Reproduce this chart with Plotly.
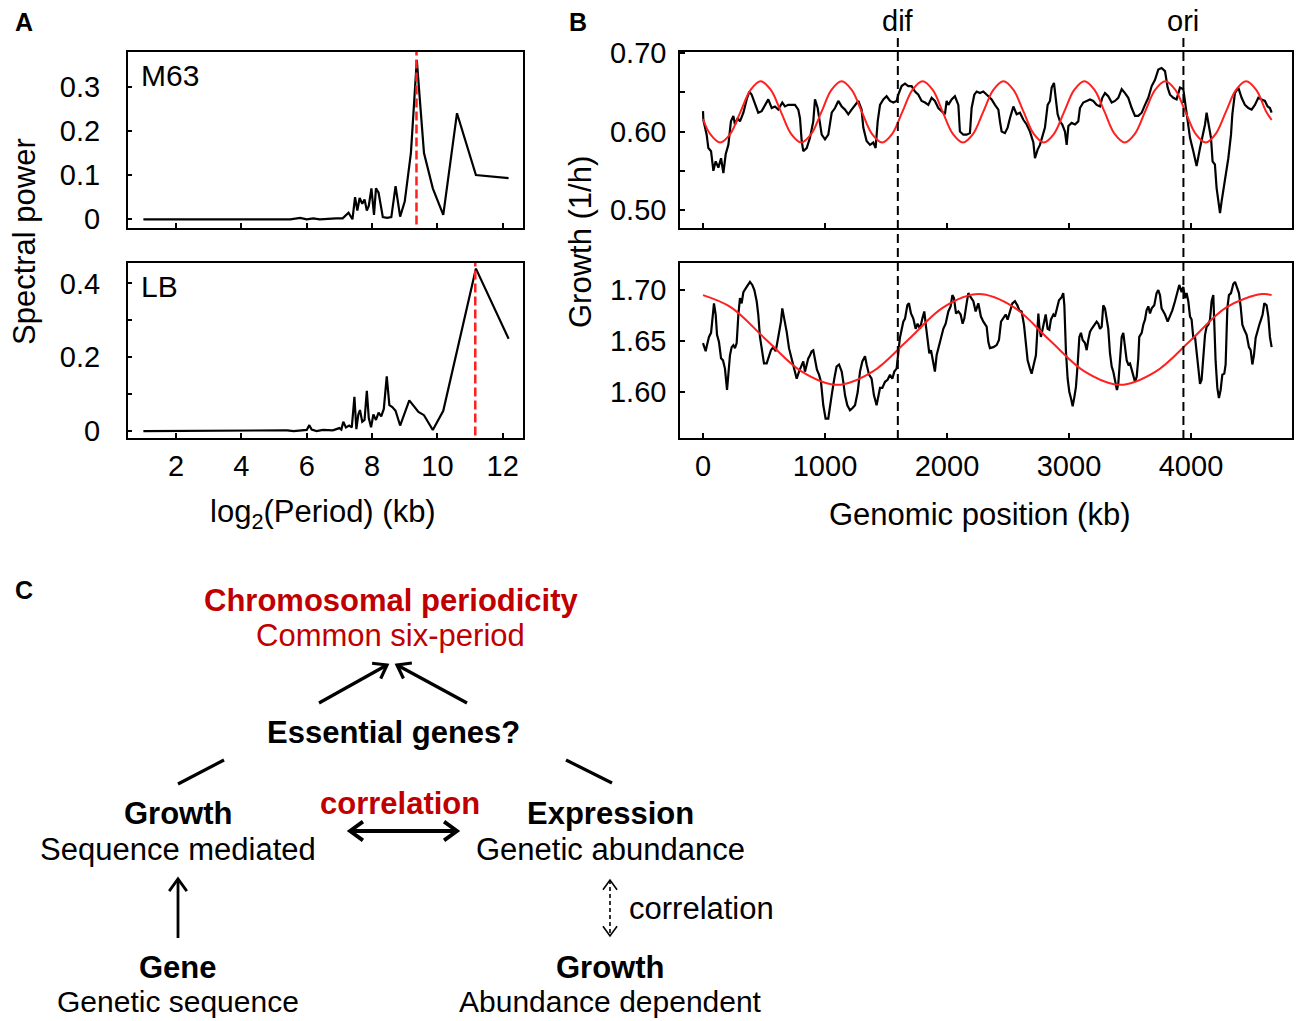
import math
import plotly.graph_objects as go

# ---------------- DATA ----------------
# Panel A: spectral power vs log2(period) (kb)
m63_x = [1.0, 5.5, 5.8, 6.0, 6.2, 6.4, 6.9, 7.1, 7.28, 7.4,
         7.48, 7.55, 7.62, 7.7, 7.77, 7.84, 7.9, 7.98, 8.06, 8.12,
         8.2, 8.33, 8.46, 8.59, 8.72, 8.86, 9.0, 9.19, 9.37, 9.59,
         9.86, 10.18, 10.6, 11.18, 12.18]
m63_y = [0, 0, 0.003, 0, 0.002, 0, 0.002, 0.002, 0.015, 0.0,
         0.05, 0.02, 0.048, 0.035, 0.045, 0.02, 0.03, 0.07, 0.01, 0.07,
         0.06, 0.005, 0.003, 0.005, 0.075, 0.006, 0.04, 0.15, 0.36, 0.15,
         0.07, 0.01, 0.24, 0.1, 0.093]
m63_peak = 9.36

lb_x = [1.0, 5.4, 5.6, 6.0, 6.08, 6.15, 6.3, 6.5, 6.8, 7.0,
        7.06, 7.12, 7.2, 7.3, 7.38, 7.46, 7.52, 7.58, 7.63, 7.7,
        7.77, 7.84, 7.9, 7.97, 8.04, 8.12, 8.2, 8.28, 8.36, 8.45,
        8.53, 8.62, 8.72, 8.86, 9.14, 9.42, 9.59, 9.86, 10.18, 10.6,
        11.18, 12.18]
lb_y = [0, 0.002, 0, 0.003, 0.016, 0.004, 0.0, 0.003, 0.002, 0.008,
        0.004, 0.025, 0.01, 0.015, 0.01, 0.093, 0.005, 0.045, 0.057, 0.025,
        0.03, 0.109, 0.035, 0.01, 0.045, 0.03, 0.05, 0.04, 0.06, 0.148,
        0.07, 0.065, 0.055, 0.015, 0.083, 0.052, 0.043, 0.003, 0.055, 0.22,
        0.44, 0.25]
lb_peak = 11.16

# Panel B top (M63): growth (1/h) vs genomic position (kb)
m63g_x = [0, 3, 30, 44, 66, 85, 104, 126, 148, 167,
          186, 208, 229, 249, 262, 284, 303, 331, 358, 380,
          399, 426, 453, 481, 508, 535, 563, 590, 617, 650,
          672, 699, 727, 754, 781, 795, 809, 822, 850, 877,
          904, 918, 940, 959, 973, 1000, 1027, 1055, 1082, 1109,
          1137, 1164, 1191, 1218, 1246, 1273, 1300, 1314, 1341, 1369,
          1396, 1415, 1432, 1451, 1478, 1505, 1533, 1560, 1587, 1601,
          1628, 1656, 1683, 1710, 1738, 1765, 1792, 1820, 1847, 1874,
          1901, 1929, 1956, 1983, 1997, 2011, 2038, 2065, 2093, 2106,
          2134, 2161, 2188, 2202, 2224, 2243, 2270, 2298, 2339, 2366,
          2393, 2421, 2434, 2448, 2475, 2497, 2516, 2544, 2571, 2598,
          2626, 2653, 2680, 2708, 2721, 2743, 2762, 2781, 2803, 2825,
          2844, 2858, 2877, 2891, 2907, 2926, 2945, 2967, 2981, 2995,
          3022, 3049, 3076, 3090, 3117, 3145, 3172, 3199, 3227, 3254,
          3273, 3295, 3322, 3350, 3377, 3404, 3432, 3459, 3486, 3514,
          3541, 3568, 3596, 3623, 3650, 3678, 3705, 3732, 3759, 3787,
          3809, 3828, 3855, 3882, 3910, 3937, 3951, 3970, 3992, 4019,
          4046, 4074, 4101, 4115, 4128, 4147, 4164, 4177, 4196, 4210,
          4224, 4238, 4251, 4265, 4279, 4306, 4328, 4339, 4360, 4388,
          4415, 4442, 4470, 4497, 4524, 4552, 4579, 4606, 4628, 4647,
          4661]
m63g_y = [0.626, 0.615, 0.596, 0.579, 0.575, 0.550, 0.562, 0.554, 0.566, 0.547,
          0.571, 0.583, 0.613, 0.620, 0.609, 0.617, 0.613, 0.624, 0.641, 0.651,
          0.647, 0.634, 0.624, 0.626, 0.634, 0.641, 0.630, 0.632, 0.628, 0.637,
          0.632, 0.634, 0.634, 0.634, 0.628, 0.617, 0.588, 0.575, 0.579, 0.592,
          0.613, 0.641, 0.630, 0.613, 0.596, 0.590, 0.596, 0.624, 0.630, 0.639,
          0.632, 0.628, 0.622, 0.628, 0.634, 0.639, 0.628, 0.605, 0.588, 0.583,
          0.586, 0.579, 0.613, 0.634, 0.641, 0.645, 0.639, 0.637, 0.639, 0.647,
          0.658, 0.661, 0.658, 0.658, 0.651, 0.647, 0.639, 0.637, 0.634, 0.643,
          0.639, 0.630, 0.626, 0.622, 0.639, 0.634, 0.641, 0.645, 0.634, 0.600,
          0.596, 0.596, 0.598, 0.630, 0.647, 0.651, 0.649, 0.651, 0.645, 0.641,
          0.634, 0.628, 0.613, 0.600, 0.598, 0.605, 0.617, 0.632, 0.622, 0.624,
          0.615, 0.609, 0.600, 0.586, 0.566, 0.577, 0.583, 0.592, 0.605, 0.634,
          0.639, 0.656, 0.662, 0.643, 0.622, 0.613, 0.609, 0.600, 0.583, 0.607,
          0.611, 0.609, 0.613, 0.630, 0.637, 0.639, 0.641, 0.639, 0.634, 0.632,
          0.643, 0.649, 0.645, 0.637, 0.639, 0.643, 0.654, 0.649, 0.643, 0.630,
          0.620, 0.620, 0.624, 0.634, 0.643, 0.658, 0.666, 0.679, 0.681, 0.677,
          0.656, 0.647, 0.643, 0.641, 0.656, 0.654, 0.639, 0.613, 0.592, 0.575,
          0.556, 0.579, 0.598, 0.609, 0.624, 0.605, 0.592, 0.562, 0.558, 0.528,
          0.511, 0.496, 0.511, 0.524, 0.537, 0.566, 0.596, 0.622, 0.649, 0.656,
          0.643, 0.634, 0.630, 0.628, 0.634, 0.643, 0.641, 0.639, 0.632, 0.630,
          0.624]
# fitted periodic curve (M63)
m63fit_x = [0, 58, 141, 224, 307, 390, 473, 556, 639, 722,
            805, 888, 971, 1053, 1136, 1219, 1302, 1385, 1468, 1551,
            1634, 1717, 1800, 1883, 1965, 2048, 2131, 2214, 2297, 2380,
            2463, 2545, 2628, 2711, 2794, 2877, 2960, 3043, 3126, 3209,
            3292, 3374, 3457, 3540, 3623, 3706, 3789, 3872, 3955, 4038,
            4121, 4203, 4286, 4369, 4452, 4535, 4618, 4661]
m63fit_y = [0.616, 0.597, 0.586, 0.597, 0.625, 0.653, 0.664, 0.653, 0.625, 0.597,
            0.586, 0.597, 0.625, 0.653, 0.664, 0.653, 0.625, 0.597, 0.586, 0.597,
            0.625, 0.653, 0.664, 0.653, 0.625, 0.597, 0.586, 0.597, 0.625, 0.653,
            0.664, 0.653, 0.625, 0.597, 0.586, 0.597, 0.625, 0.653, 0.664, 0.653,
            0.625, 0.597, 0.586, 0.597, 0.625, 0.653, 0.664, 0.653, 0.625, 0.597,
            0.586, 0.597, 0.625, 0.653, 0.664, 0.653, 0.625, 0.615]

# Panel B bottom (LB)
lbg_x = [0, 11, 22, 33, 49, 66, 76, 90, 104, 115,
         131, 148, 164, 180, 197, 208, 221, 235, 249, 262,
         276, 290, 303, 317, 331, 358, 385, 404, 421, 440,
         453, 467, 481, 500, 522, 541, 557, 576, 596, 617,
         639, 650, 667, 686, 705, 727, 746, 768, 787, 803,
         822, 836, 850, 863, 877, 891, 904, 918, 934, 951,
         967, 986, 1005, 1027, 1041, 1055, 1076, 1095, 1115, 1137,
         1150, 1164, 1183, 1205, 1224, 1246, 1268, 1287, 1306, 1328,
         1341, 1361, 1382, 1401, 1423, 1437, 1451, 1470, 1492, 1513,
         1533, 1552, 1568, 1587, 1601, 1614, 1628, 1642, 1656, 1675,
         1688, 1705, 1724, 1743, 1759, 1779, 1798, 1814, 1828, 1841,
         1855, 1869, 1888, 1901, 1915, 1929, 1948, 1970, 1989, 2011,
         2030, 2044, 2057, 2074, 2093, 2112, 2128, 2142, 2161, 2175,
         2194, 2216, 2235, 2257, 2278, 2298,
         2325, 2339, 2352, 2380, 2407, 2426, 2443, 2462, 2481, 2497,
         2516, 2536, 2557, 2577, 2593, 2612, 2631, 2645, 2661, 2680,
         2694, 2713, 2729, 2749, 2757, 2770, 2790, 2809, 2825, 2839,
         2852, 2872, 2885, 2904, 2918, 2940, 2953, 2962, 2975, 2989,
         3003, 3016, 3030, 3044, 3057, 3071, 3085, 3098, 3112, 3131,
         3145, 3158, 3172, 3186, 3199, 3213, 3227, 3240, 3254, 3268,
         3281, 3295, 3309, 3322, 3336, 3350, 3363, 3377, 3393, 3404,
         3418, 3432, 3445, 3459, 3473, 3486, 3500, 3514, 3527, 3541,
         3555, 3568, 3576, 3596, 3609, 3623, 3636, 3650, 3664, 3678,
         3699, 3718, 3732, 3746, 3759, 3773, 3787, 3809, 3828, 3847,
         3869, 3888, 3904, 3923, 3937, 3951, 3964, 3978, 3992, 4005,
         4019, 4033, 4046, 4060, 4074, 4087, 4101, 4115, 4128, 4142,
         4156, 4169, 4183, 4191, 4202, 4216, 4229, 4243, 4257, 4273,
         4284, 4298, 4311, 4328, 4347, 4361, 4380, 4393, 4407, 4421,
         4437, 4456, 4475, 4489, 4503, 4516, 4530, 4546, 4560, 4574,
         4587, 4601, 4620, 4634, 4647, 4661]
lbg_y = [1.648, 1.644, 1.640, 1.646, 1.654, 1.658, 1.669, 1.687, 1.676, 1.656,
         1.649, 1.633, 1.631, 1.623, 1.602, 1.620, 1.636, 1.644, 1.646, 1.643,
         1.648, 1.676, 1.692, 1.687, 1.698, 1.703, 1.708, 1.705, 1.700, 1.689,
         1.676, 1.654, 1.643, 1.628, 1.628, 1.636, 1.641, 1.644, 1.640, 1.654,
         1.669, 1.682, 1.672, 1.659, 1.643, 1.633, 1.622, 1.613, 1.620, 1.625,
         1.630, 1.620, 1.627, 1.633, 1.636, 1.640, 1.641, 1.631, 1.622, 1.617,
         1.610, 1.587, 1.574, 1.574, 1.587, 1.597, 1.613, 1.625, 1.627, 1.620,
         1.610, 1.597, 1.587, 1.582, 1.584, 1.587, 1.600, 1.620, 1.630, 1.635,
         1.627, 1.617, 1.613, 1.597, 1.587, 1.594, 1.604, 1.604, 1.610, 1.612,
         1.617, 1.613, 1.620, 1.623, 1.643, 1.653, 1.661, 1.669, 1.672, 1.685,
         1.687, 1.677, 1.672, 1.662, 1.667, 1.662, 1.672, 1.679, 1.664, 1.653,
         1.638, 1.641, 1.627, 1.620, 1.636, 1.643, 1.654, 1.662, 1.667, 1.679,
         1.684, 1.695, 1.692, 1.677, 1.679, 1.676, 1.667, 1.672, 1.687, 1.697,
         1.693, 1.689, 1.679, 1.687, 1.674, 1.669,
         1.664, 1.649, 1.643, 1.644, 1.646, 1.651, 1.669, 1.672, 1.676, 1.671,
         1.679, 1.687, 1.689, 1.685, 1.680, 1.679, 1.666, 1.646, 1.631, 1.623,
         1.618, 1.628, 1.636, 1.677, 1.664, 1.654, 1.667, 1.676, 1.662, 1.661,
         1.671, 1.676, 1.674, 1.682, 1.690, 1.693, 1.697, 1.685, 1.640, 1.613,
         1.600, 1.594, 1.586, 1.595, 1.605, 1.627, 1.654, 1.658, 1.651, 1.648,
         1.641, 1.651, 1.659, 1.662, 1.664, 1.667, 1.669, 1.667, 1.662, 1.664,
         1.685, 1.682, 1.672, 1.662, 1.638, 1.625, 1.620, 1.612, 1.602, 1.608,
         1.633, 1.654, 1.658, 1.644, 1.631, 1.627, 1.628, 1.622, 1.617, 1.610,
         1.615, 1.633, 1.654, 1.658, 1.666, 1.671, 1.680, 1.684, 1.677, 1.682,
         1.685, 1.697, 1.700, 1.695, 1.682, 1.679, 1.676, 1.669, 1.674, 1.680,
         1.689, 1.698, 1.705, 1.698, 1.703, 1.692, 1.697, 1.689, 1.674, 1.671,
         1.653, 1.654, 1.641, 1.623, 1.608, 1.612, 1.633, 1.656, 1.664, 1.666,
         1.671, 1.689, 1.695, 1.661, 1.630, 1.604, 1.594, 1.602, 1.617, 1.618,
         1.627, 1.682, 1.695, 1.697, 1.706, 1.708, 1.700, 1.697, 1.684, 1.666,
         1.661, 1.656, 1.644, 1.641, 1.627, 1.636, 1.653, 1.661, 1.666, 1.671,
         1.676, 1.687, 1.685, 1.674, 1.654, 1.644]
lbfit_x = [0, 230, 520, 810, 1100, 1390, 1680, 1970, 2260, 2550,
           2840, 3130, 3420, 3710, 4000, 4290, 4580, 4661]
lbfit_y = [1.695, 1.683, 1.651, 1.620, 1.607, 1.620, 1.651, 1.683, 1.696, 1.683,
           1.651, 1.620, 1.607, 1.620, 1.651, 1.683, 1.696, 1.695]

dif_pos = 1597
ori_pos = 3938

a_xticks = [2, 4, 6, 8, 10, 12]
b_xticks = [0, 1000, 2000, 3000, 4000]

assert len(m63_x) == len(m63_y)
assert len(lb_x) == len(lb_y)
assert len(m63g_x) == len(m63g_y)
assert len(m63fit_x) == len(m63fit_y)
assert len(lbg_x) == len(lbg_y)
assert len(lbfit_x) == len(lbfit_y)

# ---------------- FIGURE ----------------
W, H = 1298, 1021
FONT = "Liberation Sans, Arial, sans-serif"
RED = "#ff2020"
DRED = "#c00000"
TXT = 30


def px(x):
    return x / W


def py(y):
    return 1 - y / H


fig = go.Figure()
blk = dict(color="black", width=2.2)
fig.add_trace(go.Scatter(x=m63_x, y=m63_y, mode="lines", line=blk, xaxis="x", yaxis="y"))
fig.add_trace(go.Scatter(x=lb_x, y=lb_y, mode="lines", line=blk, xaxis="x2", yaxis="y2"))
fig.add_trace(go.Scatter(x=m63g_x, y=m63g_y, mode="lines", line=blk, xaxis="x3", yaxis="y3"))
fig.add_trace(go.Scatter(x=m63fit_x, y=m63fit_y, mode="lines",
                         line=dict(color=RED, width=2, shape="spline", smoothing=1.0),
                         xaxis="x3", yaxis="y3"))
fig.add_trace(go.Scatter(x=lbg_x, y=lbg_y, mode="lines", line=blk, xaxis="x4", yaxis="y4"))
fig.add_trace(go.Scatter(x=lbfit_x, y=lbfit_y, mode="lines",
                         line=dict(color=RED, width=2, shape="spline", smoothing=1.0),
                         xaxis="x4", yaxis="y4"))

tickfont = dict(family=FONT, size=29, color="black")
base = dict(showline=True, mirror=True, linecolor="black", linewidth=1.5,
            ticks="inside", ticklen=5, tickwidth=1.5, tickcolor="black",
            showgrid=False, zeroline=False, tickfont=tickfont, fixedrange=True,
            automargin=False)

A_dom = [px(127.7), px(523.3)]
B_dom = [px(680), px(1292)]
TOP_dom = [py(227.5), py(52)]
BOT_dom = [py(437.7), py(262.7)]

fig.update_layout(
    template="none",
    xaxis=dict(base, domain=A_dom, range=[0.52, 12.63], anchor="y",
               tickvals=a_xticks, showticklabels=False),
    yaxis=dict(base, domain=TOP_dom, range=[-0.0186, 0.3785], anchor="x",
               tickvals=[0, 0.1, 0.2, 0.3], ticktext=["0", "0.1", "0.2", "0.3"],
               ticklabelstandoff=20),
    xaxis2=dict(base, domain=A_dom, range=[0.52, 12.63], anchor="y2",
                tickvals=a_xticks, ticklabelstandoff=2),
    yaxis2=dict(base, domain=BOT_dom, range=[-0.018, 0.456], anchor="x2",
                tickvals=[0, 0.2, 0.4], ticktext=["0", "0.2", "0.4"],
                minor=dict(tickvals=[0.1, 0.3], ticks="inside", ticklen=5,
                           tickwidth=1.5, tickcolor="black"),
                ticklabelstandoff=20),
    xaxis3=dict(base, domain=B_dom, range=[-188.5, 4828], anchor="y3",
                tickvals=b_xticks, showticklabels=False),
    yaxis3=dict(base, domain=TOP_dom, range=[0.4777, 0.7014], anchor="x3",
                tickvals=[0.5, 0.6, 0.7], ticktext=["0.50", "0.60", "0.70"],
                minor=dict(tickvals=[0.55, 0.65], ticks="inside", ticklen=5,
                           tickwidth=1.5, tickcolor="black"),
                ticklabelstandoff=6),
    xaxis4=dict(base, domain=B_dom, range=[-188.5, 4828], anchor="y4",
                tickvals=b_xticks, ticklabelstandoff=2),
    yaxis4=dict(base, domain=BOT_dom, range=[1.5552, 1.7268], anchor="x4",
                tickvals=[1.6, 1.65, 1.7], ticktext=["1.60", "1.65", "1.70"],
                ticklabelstandoff=6),
)

shapes = []
# dif / ori dashed lines spanning both B panels
for pos in (dif_pos, ori_pos):
    shapes.append(dict(type="line", xref="x3", yref="paper", x0=pos, x1=pos,
                       y0=py(439), y1=py(36),
                       line=dict(color="black", width=2, dash="9px,5px")))
# red dashed peak markers in A
shapes.append(dict(type="line", xref="x", yref="y", x0=m63_peak, x1=m63_peak,
                   y0=-0.012, y1=0.3785, line=dict(color=RED, width=2.5, dash="9px,4px")))
shapes.append(dict(type="line", xref="x2", yref="y2", x0=lb_peak, x1=lb_peak,
                   y0=-0.012, y1=0.456, line=dict(color=RED, width=2.5, dash="9px,4px")))


def seg(x0, y0, x1, y1, width=3, dash=None):
    ln = dict(color="black", width=width)
    if dash:
        ln["dash"] = dash
    shapes.append(dict(type="line", xref="paper", yref="paper",
                       x0=px(x0), y0=py(y0), x1=px(x1), y1=py(y1), line=ln))


def head(xt, yt, xf, yf, width=3, arm=15, ang=36):
    dx, dy = xt - xf, yt - yf
    L = math.hypot(dx, dy)
    ux, uy = dx / L, dy / L
    pts = []
    for s in (1, -1):
        a = math.radians(ang * s)
        rx = ux * math.cos(a) - uy * math.sin(a)
        ry = ux * math.sin(a) + uy * math.cos(a)
        pts.append((xt - arm * rx, yt - arm * ry))
    path = "M {:.5f},{:.5f} L {:.5f},{:.5f} L {:.5f},{:.5f}".format(
        px(pts[0][0]), py(pts[0][1]), px(xt), py(yt), px(pts[1][0]), py(pts[1][1]))
    shapes.append(dict(type="path", xref="paper", yref="paper", path=path,
                       line=dict(color="black", width=width)))


def arrow(x0, y0, x1, y1, width=3, both=False, dash=None, arm=15):
    seg(x0, y0, x1, y1, width, dash)
    head(x1, y1, x0, y0, width, arm)
    if both:
        head(x0, y0, x1, y1, width, arm)


arrow(319, 703, 387, 665, width=3.2)
arrow(467, 703, 397, 665, width=3.2)
seg(178, 784, 224, 760, width=3.2)
seg(566, 760, 612, 783, width=3.2)
arrow(350, 831, 457, 831, width=3.8, both=True, arm=16)
arrow(178, 938, 178, 879, width=2.8, arm=15)
arrow(610, 880, 610, 936, width=1.6, both=True, dash="4px,3px", arm=12)

fig.update_layout(shapes=shapes)

ann = []


def txt(s, x, y, size=TXT, color="black", bold=False, xanchor="center", angle=0):
    if bold:
        s = "<b>" + s + "</b>"
    ann.append(dict(text=s, x=px(x), y=py(y), xref="paper", yref="paper",
                    showarrow=False, xanchor=xanchor, yanchor="middle",
                    textangle=angle, font=dict(family=FONT, size=size, color=color)))


# panel letters
txt("A", 24, 22, size=25, bold=True)
txt("B", 578, 22, size=25, bold=True)
txt("C", 24, 590, size=25, bold=True)
# panel A/B texts
txt("M63", 139, 75, xanchor="left")
txt("LB", 139, 287, xanchor="left")
txt("Spectral power", 24, 242, size=31, angle=-90)
txt("Growth (1/h)", 580, 242, size=31, angle=-90)
txt("log<sub>2</sub>(Period) (kb)", 323, 514, size=31)
txt("Genomic position (kb)", 980, 514, size=31)
txt("dif", 898, 21, size=29)
txt("ori", 1183, 21, size=29)
# panel C
txt("Chromosomal periodicity", 391, 600, size=31, color=DRED, bold=True)
txt("Common six-period", 390, 635, size=31, color=DRED)
txt("Essential genes?", 393, 732, size=31, bold=True)
txt("Growth", 178, 813, size=31, bold=True)
txt("Sequence mediated", 178, 849, size=31)
txt("correlation", 400, 803, size=31, color=DRED, bold=True)
txt("Expression", 610, 813, size=31, bold=True)
txt("Genetic abundance", 610, 849, size=31)
txt("correlation", 701, 908, size=31)
txt("Gene", 178, 967, size=31, bold=True)
txt("Genetic sequence", 178, 1001, size=30)
txt("Growth", 610, 967, size=31, bold=True)
txt("Abundance dependent", 610, 1001, size=30)

fig.update_layout(
    annotations=ann,
    width=W, height=H, autosize=False,
    margin=dict(l=0, r=0, t=0, b=0, pad=0),
    paper_bgcolor="white", plot_bgcolor="white",
    showlegend=False,
    font=dict(family=FONT, color="black"),
)

fig.write_html("out.html", config={"displayModeBar": False},
               post_script="document.body.style.margin='0';document.body.style.overflow='hidden';")
